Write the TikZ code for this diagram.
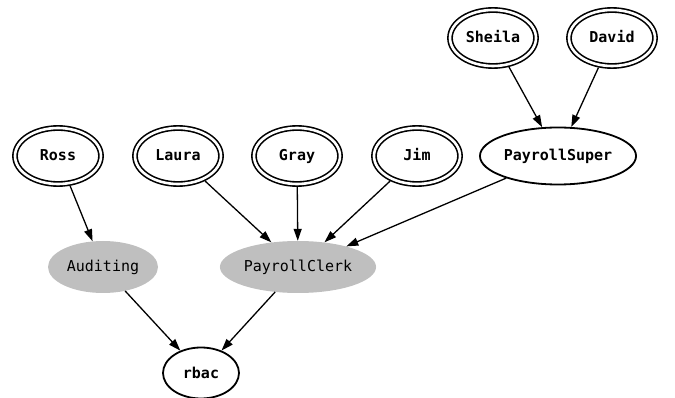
\documentclass[tikz,border=0pt]{standalone}
\usepackage{fontspec}
\setmonofont{DejaVu Sans Mono}
\usetikzlibrary{shapes.geometric}
\usetikzlibrary{arrows.meta}

\begin{document}
\begin{tikzpicture}[x = 1pt, y = -1pt,
	every node/.style = {text height = 1em, text depth = 0pt, inner sep = 1pt},
	user/.style = {ellipse, draw = black, line width = 1.6pt, double, double distance = 2.6pt,
		minimum width = 86pt, minimum height = 56pt, outer sep = 2.9pt,
		font = \fontsize{15}{17}\selectfont\ttfamily\bfseries},
	role/.style = {ellipse, fill = black!25, minimum width = 140pt, minimum height = 52pt,
		font = \fontsize{15}{17}\selectfont\ttfamily},
	super/.style = {ellipse, draw = black, line width = 1.8pt, minimum width = 138pt, minimum height = 57pt,
		font = \fontsize{15}{17}\selectfont\ttfamily\bfseries},
	edge/.style = {black, line width = 1.3pt, -{Triangle[length = 12pt, width = 8pt]}}]
	\useasboundingbox (0, 0) rectangle (675, 398);
	\node [user] (sheila) at (493, 38) {Sheila};
	\node [user] (david) at (612, 38) {David};
	\node [user] (ross) at (58, 156) {Ross};
	\node [user] (laura) at (178, 156) {Laura};
	\node [user] (gray) at (297, 156) {Gray};
	\node [user] (jim) at (417, 156) {Jim};
	\node [super] (payrollsuper) at (558, 156) {PayrollSuper};
	\node [role, minimum width = 110pt] (auditing) at (103, 267) {Auditing};
	\node [role] (payrollclerk) at (298, 267) {PayrollClerk};
	\node [super, minimum width = 76pt, minimum height = 51pt] (rbac) at (201, 373) {rbac};
	\draw [edge] (sheila) -- (payrollsuper);
	\draw [edge] (david) -- (payrollsuper);
	\draw [edge] (ross) -- (auditing);
	\draw [edge] (laura) -- (payrollclerk);
	\draw [edge] (gray) -- (payrollclerk);
	\draw [edge] (jim) -- (payrollclerk);
	\draw [edge] (payrollsuper) -- (payrollclerk);
	\draw [edge] (auditing) -- (rbac);
	\draw [edge] (payrollclerk) -- (rbac);
\end{tikzpicture}
\end{document}
